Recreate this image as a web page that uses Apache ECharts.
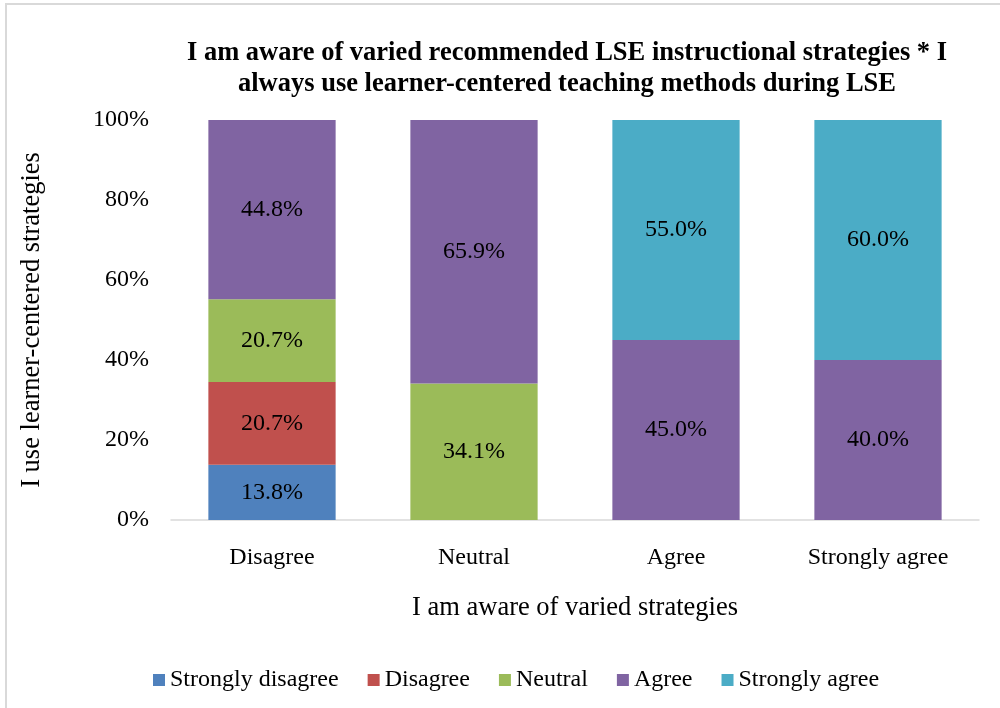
<!DOCTYPE html>
<html>
<head>
<meta charset="utf-8">
<script src="https://cdn.jsdelivr.net/npm/echarts@6/dist/echarts.min.js"></script>
<style>
  html, body { margin: 0; padding: 0; background: #ffffff; }
  #frame { position: absolute; left: 5px; top: 3px; width: 1000px; height: 710px;
           border-top: 2px solid #d9d9d9; border-left: 2px solid #d9d9d9; box-sizing: border-box; }
  #chart { position: absolute; left: 0; top: 0; width: 1000px; height: 708px; }
</style>
</head>
<body>
<div id="frame"></div>
<div id="chart"></div>
<script>
const categories = ['Disagree', 'Neutral', 'Agree', 'Strongly agree'];
const seriesNames = ['Strongly disagree', 'Disagree', 'Neutral', 'Agree', 'Strongly agree'];
const stronglyDisagree = [13.8, null, null, null];
const disagree = [20.7, null, null, null];
const neutral = [20.7, 34.1, null, null];
const agree = [44.8, 65.9, 45.0, 40.0];
const stronglyAgree = [null, null, 55.0, 60.0];
const yTicks = [0, 20, 40, 60, 80, 100];
const colors = ['#4F81BD', '#C0504D', '#9BBB59', '#8064A2', '#4BACC6'];

const FONT = '"Liberation Serif", "Times New Roman", serif';
const seriesData = [stronglyDisagree, disagree, neutral, agree, stronglyAgree];

const chart = echarts.init(document.getElementById('chart'), null, { renderer: 'canvas' });
chart.setOption({
  animation: false,
  color: colors,
  textStyle: { fontFamily: FONT, color: '#000' },
  title: {
    text: 'I am aware of varied recommended LSE instructional strategies * I\nalways use learner-centered teaching methods during LSE',
    left: 562,
    top: 33,
    textAlign: 'center',
    textStyle: { fontFamily: FONT, fontWeight: 'bold', fontSize: 26.5, lineHeight: 31, color: '#000' }
  },
  legend: {
    left: 148,
    top: 663,
    itemWidth: 12,
    itemHeight: 12,
    itemGap: 29,
    icon: 'rect',
    textStyle: { fontFamily: FONT, fontSize: 24, color: '#000' },
    data: seriesNames
  },
  grid: { left: 171, right: 21, top: 120, bottom: 188, containLabel: false },
  xAxis: {
    type: 'category',
    data: categories,
    axisLine: { lineStyle: { color: '#d9d9d9', width: 1.5 } },
    axisTick: { show: false },
    axisLabel: { fontFamily: FONT, fontSize: 24, color: '#000', margin: 26 },
    name: 'I am aware of varied strategies',
    nameLocation: 'middle',
    nameGap: 75,
    nameTextStyle: { fontFamily: FONT, fontSize: 26.5, color: '#000' }
  },
  yAxis: {
    type: 'value',
    min: yTicks[0],
    max: yTicks[yTicks.length - 1],
    interval: yTicks[1] - yTicks[0],
    axisLine: { show: false },
    axisTick: { show: false },
    splitLine: { show: false },
    axisLabel: { fontFamily: FONT, fontSize: 24, color: '#000', margin: 22, formatter: '{value}%' },
    name: 'I use learner-centered strategies',
    nameLocation: 'middle',
    nameGap: 125,
    nameTextStyle: { fontFamily: FONT, fontSize: 26.5, color: '#000' }
  },
  series: seriesNames.map((name, i) => ({
    name: name,
    type: 'bar',
    stack: 'total',
    barWidth: '63%',
    data: seriesData[i],
    itemStyle: { color: colors[i] },
    label: {
      show: true,
      position: 'inside',
      fontFamily: FONT,
      fontSize: 24,
      color: '#000',
      formatter: p => (p.value == null ? '' : Number(p.value).toFixed(1) + '%')
    }
  }))
});
</script>
</body>
</html>
